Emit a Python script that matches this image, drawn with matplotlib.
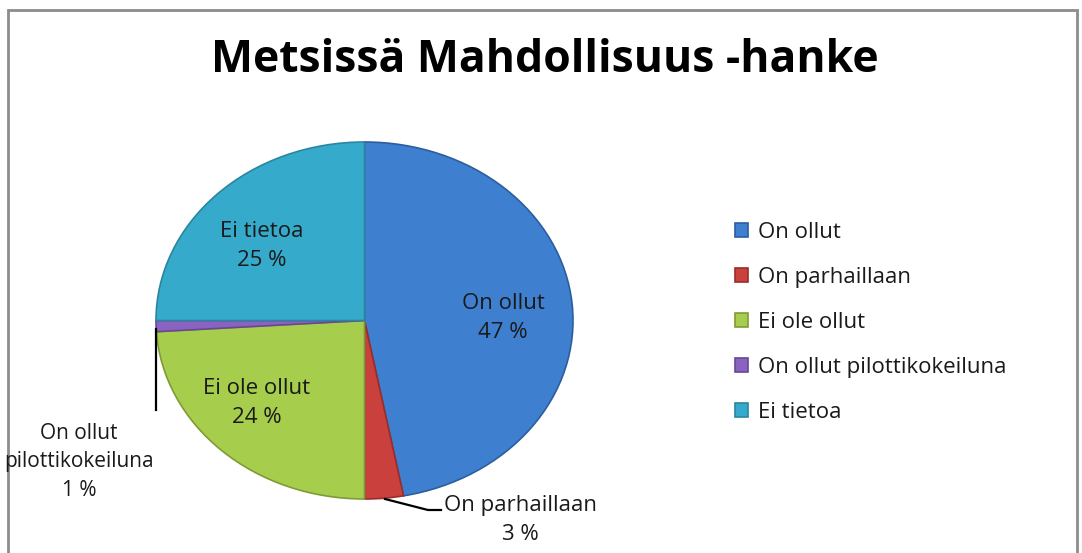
import matplotlib
matplotlib.use("Agg")
import matplotlib.pyplot as plt
from matplotlib.patches import Rectangle

categories = ["On ollut", "On parhaillaan", "Ei ole ollut", "On ollut pilottikokeiluna", "Ei tietoa"]
values = [47, 3, 24, 1, 25]
colors = ["#3F7FD0", "#C9403C", "#A6CD4B", "#8A63C0", "#35AACB"]
edge_colors = ["#2C5E9E", "#9A2C2A", "#7E9C35", "#6A4796", "#2A86A0"]
title = "Metsissä Mahdollisuus -hanke"

W, H = 1082, 553
fig = plt.figure(figsize=(W / 100, H / 100), dpi=100)
fig.patch.set_facecolor("white")

def px_axes(x0, y0, x1, y1):
    return fig.add_axes([x0 / W, 1 - y1 / H, (x1 - x0) / W, (y1 - y0) / H])

# outer border
fig.add_artist(Rectangle((8 / W, -0.05), (1077 - 8) / W, 1 - 10 / H + 0.05,
                         transform=fig.transFigure, fill=False,
                         edgecolor="#8C8C8C", linewidth=2))

FONT = "Open Sans"
FS = 16

ax = px_axes(156, 142, 573, 499)
wedges, _ = ax.pie(values, colors=colors, startangle=90, counterclock=False,
                   radius=1.0, wedgeprops=dict(linewidth=1.2))
for w, ec in zip(wedges, edge_colors):
    w.set_edgecolor(ec)
ax.set_aspect("auto")
ax.set_xlim(-1, 1)
ax.set_ylim(-1, 1)
ax.axis("off")

fig.text(545 / W, 1 - 61 / H, title, ha="center", va="center",
         fontsize=32, fontweight="bold", family=FONT, color="black")

def ftext(x, y, s, fs=FS, **kw):
    fig.text(x / W, 1 - y / H, s, ha="center", va="center", family=FONT,
             fontsize=fs, color="#1a1a1a", linespacing=1.45, **kw)

labels_pos = [(503, 318), (520, 520), (257, 403), (79, 462), (262, 246)]
for cat, v, (x, y) in zip(categories, values, labels_pos):
    name = cat
    fs = FS
    if cat == "On ollut pilottikokeiluna":
        name = "On ollut\npilottikokeiluna"
        fs = 15
    ftext(x, y, f"{name}\n{v} %", fs=fs)

# leader lines
fig.add_artist(plt.Line2D([156 / W, 156 / W], [1 - 329 / H, 1 - 410 / H],
                          color="black", linewidth=1.6, transform=fig.transFigure))
fig.add_artist(plt.Line2D([385 / W, 428 / W, 441 / W],
                          [1 - 499 / H, 1 - 510 / H, 1 - 510 / H],
                          color="black", linewidth=1.6, transform=fig.transFigure))

leg = fig.legend(wedges, categories, loc="upper left",
                 bbox_to_anchor=(735 / W, 1 - 222 / H), frameon=False,
                 prop=dict(family=FONT, size=FS), handlelength=0.6,
                 handleheight=0.6, handletextpad=0.45, labelspacing=1.08,
                 labelcolor="#1a1a1a", borderaxespad=0, borderpad=0)

fig.savefig("out.png", dpi=100)
